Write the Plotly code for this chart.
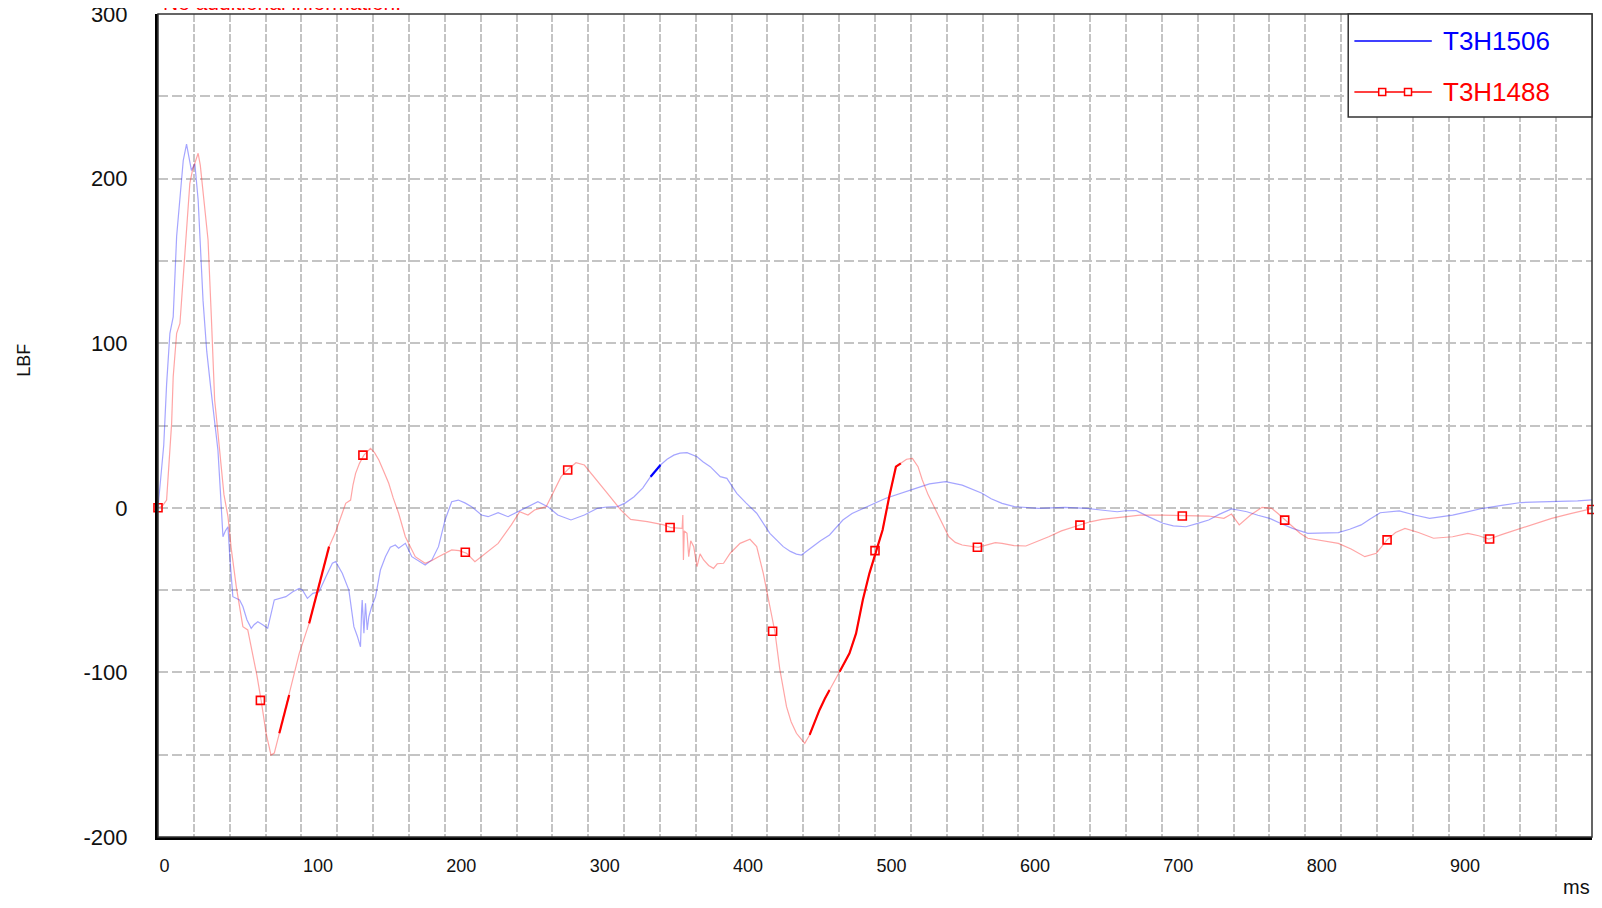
import numpy as np
import plotly.graph_objects as go

# T3H1506 (blue): time in ms, force in LBF
blue_ms = [0, 2, 4, 6, 8.3, 10.6, 13, 15.5, 17.6, 19.9, 21.5, 23.3, 25.7, 28, 31.4, 34, 36.5, 39,
           41.8, 43.5, 45.3, 47, 48.8, 49.9, 52.2, 56.9, 59.2, 62, 65, 67, 69.6, 73, 76.5, 81.1,
           85, 89.2, 94, 98.5, 100.8, 104.2, 108, 112.3, 117, 121.6, 123.9, 128.5, 133.1, 136.6,
           139, 141.2, 142, 142.4, 143.6, 144.7, 145.9, 147, 149, 151.7, 155.1, 158.6, 162, 165.5,
           167.8, 172.5, 177, 181, 186.3, 191, 195.6, 200.2, 204.8, 209.4, 214, 218.7, 225.6,
           230.2, 237.2, 244.1, 253.3, 258, 264.9, 271.8, 278.8, 288, 297.3, 306.5, 313, 320.4,
           326, 332, 338, 343.5, 350.4, 355, 359.7, 364, 368.9, 375.9, 380, 385.1, 392.1, 396.7,
           403.6, 410, 417.5, 426.7, 436, 441, 445.2, 448.7, 452, 456.8, 462, 468.3, 477.6, 484,
           491.5, 499, 507.6, 518, 528.4, 538, 549.2, 560.8, 567, 574.6, 581, 588.6, 597.2, 606,
           614, 632.5, 647.7, 659, 668.9, 675, 682.2, 691, 700.8, 708, 716.8, 725, 732.7, 740,
           748.6, 754, 759.3, 767, 775.2, 783, 791.2, 801.8, 812, 823.1, 831, 839, 845, 852.3,
           865.6, 876.2, 886.8, 895, 902.8, 913, 924, 937, 950.6, 964, 977.1, 990, 1000]
blue_lbf = [0, 20, 38, 75, 106, 116, 165, 190, 211, 221, 214, 205, 209, 187, 126, 95, 75, 55,
            35, 10, -17.6, -14, -11.5, -27.6, -54, -56, -60, -68, -73.2, -71, -69.2, -71, -73.2, -56,
            -55, -54, -51, -49, -50, -55, -52, -51, -42, -33.7, -32.7, -39.8, -50, -72.2,
            -78, -84.4, -62, -56, -76.2, -58, -74.2, -66.2, -60, -54, -37.8, -29.7, -24, -22.6,
            -24.6, -21.6, -29.7, -32, -34.8, -31.7, -23.6, -7.4, 3.7, 4.7, 3, 0.7, -4.4,
            -5.4, -3, -5.4, -1.3, 1, 3.7, 0.7, -4.4, -7.4, -4.4, -0.3, 0.5, 0.7,
            3, 6.7, 12, 18.9, 26, 29.5, 32, 33.2, 33.5, 31, 28, 25, 18.9, 17.9,
            8.8, 3, -3.3, -15.5, -23.6, -26.5, -28.1, -28.7, -26.5, -23.6, -20, -16.5, -7.4, -3.5,
            -0.3, 2.5, 5.8, 9, 11.8, 14.5, 15.9, 13.8, 11.5, 8.8, 5.5, 2.7, 0.7, 0,
            -0.3, 0.3, -0.3, -1.5, -2.4, -1.8, -1.7, -5.5, -9.4, -11, -11.5, -9.5, -7.4, -4,
            -0.7, -1.5, -2.4, -4.5, -6.4, -9.5, -12.5, -15.5, -15.5, -15.1, -13, -10.4, -7, -3,
            -1.9, -4.4, -6.4, -5.5, -4.4, -2.5, -0.3, 1.5, 3.2, 3.6, 3.8, 4.2, 4.8]

# T3H1488 (red)
red_ms = [0, 3, 6, 8, 9.5, 10.6, 13, 15.3, 17.5, 19.9, 22.2, 24, 25.7, 28, 29.5, 31.4, 34.9, 37.2,
          39.5, 40.7, 44.2, 46, 48.8, 51.1, 54.6, 59.2, 62.6, 66.1, 69, 71.9, 75.4, 78.8, 81.1,
          84.6, 88, 91.5, 95, 98.5, 105.4, 109, 112.3, 116, 119.3, 123.9, 127, 130.9, 134.3, 136,
          137.8, 140.5, 143.6, 148.2, 151, 154, 157, 160.9, 164, 167.8, 172.5, 176, 179.4, 186.3,
          191, 195.6, 204.8, 210, 215.2, 221, 225, 230.2, 237.2, 246.4, 252.2, 258, 262.6, 270.7,
          276.5, 281.1, 286.2, 291.5, 297.3, 304.2, 313.4, 322.7, 329.6, 341.2, 352.8, 357.8,
          365.5, 366, 366.4, 367, 368.9, 370.1, 371.5, 373.6, 375.9, 378, 380.5, 384, 387.4, 390,
          394.4, 399, 405.9, 412.8, 417.5, 422.1, 426.7, 430.2, 433.6, 436, 438.3, 441.5, 445.2,
          451, 454.4, 458, 461.3, 465, 468.3, 472, 475.3, 479, 482.2, 486.8, 489, 491.5, 496.1,
          500.7, 505.3, 509.9, 514.6, 518, 522, 526.1, 530, 533, 537, 542.3, 546, 551.5, 556,
          560.8, 571.9, 583.9, 588.6, 597, 605.2, 613, 621.1, 630, 642.9, 650, 658.3, 672, 684.9,
          700, 714.9, 732.7, 743.3, 748.6, 754, 757, 761.9, 769.9, 776.6, 781, 786.1, 791, 796.4,
          801.8, 812, 823.1, 832, 841.6, 849.6, 857.1, 863, 869.6, 879, 889.5, 902.8, 913.4, 921,
          928, 938, 950.6, 961, 971.9, 985, 998.4, 1000]
red_lbf = [0, 1, 4.7, 30, 51.3, 79.6, 106, 112, 140, 166.8, 197, 205, 209, 215.4, 208, 191, 162.7, 116,
           65.5, 55.3, 25, 8, -5.4, -25, -48, -72.2, -74.2, -88.4, -102, -116.8, -137, -150.2, -149,
           -137, -125, -113.7, -101, -88.4, -70.2, -58, -48, -35, -23.6, -14.5, -7, 2.7, 4.7, 14,
           20.9, 27, 32, 36.1, 33.5, 29.1, 23, 14.9, 6, -3.3, -17.6, -24, -29.7, -33.7,
           -32, -29.7, -25.6, -26, -27.6, -32.7, -30, -26.6, -21.6, -10.4, -2.4, -4.4, -1.3, 0.7,
           10.8, 18.9, 23.6, 27.4, 26, 18.9, 8.8, -1.3, -7, -8.4, -10.4, -12.1,
           -12.5, -4.4, -31.7, -14, -15.5, -29.7, -20, -23.6, -35.8, -28, -31.7, -35, -36.8, -34,
           -33.7, -27.6, -21.6, -19.1, -23.6, -39.8, -60.1, -75.3, -98, -110, -120.8, -130, -137,
           -143.1, -138, -130, -122.8, -116, -110.7, -104, -99.6, -94, -88.4, -76.3, -66, -56, -39.8,
           -26.1, -13.5, 6.7, 25, 27, 29.5, 30, 25, 16.9, 8, -1.3, -8, -17.6, -21,
           -22.6, -24, -21.2, -21.6, -23, -23.2, -20.5, -17.6, -14, -10.4, -8.5, -7, -5.5, -4.4,
           -4.5, -4.6, -5, -6.4, -3.8, -10.4, -8, -4.4, 0.3, -0.3, -3.5, -7.4, -11, -15.5,
           -18.5, -20, -21.6, -25, -29.7, -27.6, -19.5, -15, -12.5, -15, -18.5, -17.6, -15.5, -17,
           -19, -16, -12.5, -9.5, -6.4, -3.5, -0.7, -0.5]

# open squares the export puts on the T3H1488 trace
red_marker_ms = [0, 71.4, 142.9, 214.3, 285.7, 357.1, 428.6, 500, 571.4, 642.9, 714.3, 785.7,
                 857.1, 928.6, 1000]
red_marker_lbf = [0, -117, 32, -27, 23, -12, -75, -26, -24, -10.5, -5, -7.5, -19.5, -19, -1]

# steep stretches that the original draws in full-strength colour
red_dark_spans = [(84, 92), (105, 120), (454, 469), (475, 518)]
blue_dark_spans = [(343, 351)]

x_ticks = [0, 100, 200, 300, 400, 500, 600, 700, 800, 900]
y_ticks = [-200, -100, 0, 100, 200, 300]

FONT = "Liberation Sans, Arial, sans-serif"
GRID = "#c4c4c4"


def dark_part(xs, ys, spans):
    xs = np.asarray(xs, dtype=float)
    ys = np.asarray(ys, dtype=float)
    mask = np.zeros(len(xs), dtype=bool)
    for lo, hi in spans:
        mask |= (xs >= lo) & (xs <= hi)
    return xs, np.where(mask, ys, np.nan)


fig = go.Figure()
fig.add_trace(go.Scatter(x=blue_ms, y=blue_lbf, mode="lines", name="T3H1506",
                         line=dict(color="rgba(40,40,255,0.42)", width=1.2)))
fig.add_trace(go.Scatter(x=red_ms, y=red_lbf, mode="lines", name="T3H1488",
                         line=dict(color="rgba(255,40,40,0.42)", width=1.2)))

bx, by = dark_part(blue_ms, blue_lbf, blue_dark_spans)
fig.add_trace(go.Scatter(x=bx, y=by, mode="lines", connectgaps=False,
                         line=dict(color="#0000ff", width=2.2)))
rx, ry = dark_part(red_ms, red_lbf, red_dark_spans)
fig.add_trace(go.Scatter(x=rx, y=ry, mode="lines", connectgaps=False,
                         line=dict(color="#ff0000", width=2.2)))

fig.add_trace(go.Scatter(x=red_marker_ms, y=red_marker_lbf, mode="markers", cliponaxis=False,
                         marker=dict(symbol="square-open", size=8, color="#ff0000",
                                     line=dict(width=1.6, color="#ff0000"))))

# plot frame (top/right thin) - left/bottom are the thick axis lines
fig.add_shape(type="rect", xref="paper", yref="paper", x0=0, x1=1, y0=0, y1=1,
              line=dict(color="#333333", width=1.5), layer="above")

# legend box drawn like the original export
fig.add_shape(type="rect", xref="paper", yref="paper", x0=0.830, x1=1.0, y0=0.8748, y1=1.0,
              fillcolor="white", line=dict(color="#333333", width=1.5), layer="above")
entries = [("T3H1506", "#0000ff", 0.9672, False), ("T3H1488", "#ff0000", 0.9052, True)]
for name, col, yy, squares in entries:
    fig.add_shape(type="line", xref="paper", yref="paper", x0=0.8343, x1=0.8883, y0=yy, y1=yy,
                  line=dict(color=col, width=1.5), layer="above")
    if squares:
        for sx in (0.8537, 0.8717):
            fig.add_shape(type="rect", xref="paper", yref="paper", xsizemode="pixel",
                          ysizemode="pixel", xanchor=sx, yanchor=yy, x0=-3.5, x1=3.5,
                          y0=-3.5, y1=3.5, fillcolor="white",
                          line=dict(color=col, width=1.5), layer="above")
    fig.add_annotation(x=0.8946, y=yy, xref="paper", yref="paper", text=name,
                       showarrow=False, xanchor="left", yanchor="middle",
                       font=dict(family=FONT, size=26, color=col))

# the export's subtitle sits mostly above the visible page, as in the original
fig.add_annotation(x=0.002, y=1, xref="paper", yref="paper", text="No additional information.",
                   showarrow=False, xanchor="left", yanchor="bottom", yshift=-2,
                   font=dict(family=FONT, size=21, color="#ff0000"))
fig.add_annotation(x=-0.0936, y=0.5796, xref="paper", yref="paper", text="LBF", textangle=-90,
                   showarrow=False, xanchor="center", yanchor="middle",
                   font=dict(family=FONT, size=18, color="#111111"))
fig.add_annotation(x=1.0, y=-0.0766, xref="paper", yref="paper", text="ms",
                   showarrow=False, xanchor="right", yanchor="bottom",
                   font=dict(family=FONT, size=20, color="#111111"))

fig.update_xaxes(range=[0, 1000], tickvals=x_ticks, ticktext=[str(v) for v in x_ticks],
                 ticks="", ticklabelposition="outside right", ticklabelstandoff=10,
                 tickfont=dict(family=FONT, size=18, color="#111111"), automargin=False,
                 showline=True, linecolor="#000000", linewidth=3,
                 showgrid=True, gridcolor=GRID, gridwidth=1.6, griddash="8px,2px",
                 minor=dict(dtick=25, showgrid=True, gridcolor=GRID, gridwidth=1.6,
                            griddash="8px,2px"),
                 zeroline=False)
fig.update_yaxes(range=[-200, 300], tickvals=y_ticks, ticktext=[str(v) for v in y_ticks],
                 ticks="", ticklabelstandoff=23, ticklabeloverflow="allow", automargin=False,
                 tickfont=dict(family=FONT, size=22, color="#111111"),
                 showline=True, linecolor="#000000", linewidth=3,
                 showgrid=True, gridcolor=GRID, gridwidth=1.6, griddash="10px,4px",
                 minor=dict(dtick=50, showgrid=True, gridcolor=GRID, gridwidth=1.6,
                            griddash="10px,4px"),
                 zeroline=False)

# the page body adds an 8 px margin, so the figure is sized to fit the visible window
fig.update_layout(width=1586, height=892, margin=dict(l=150, r=2, t=6, b=63),
                  paper_bgcolor="white", plot_bgcolor="white", showlegend=False,
                  font=dict(family=FONT))

fig.write_html("out.html")
